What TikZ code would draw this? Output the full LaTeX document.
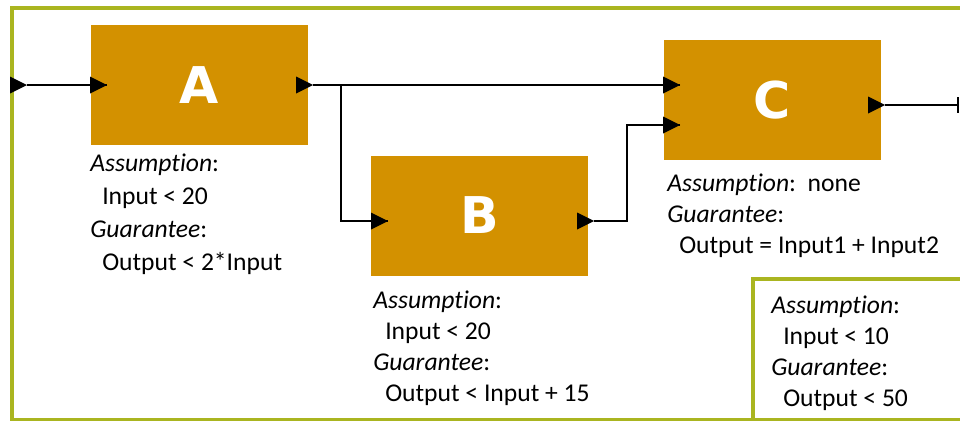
\documentclass[tikz,border=0pt]{standalone}
\usepackage{fontspec}
\setmainfont{Carlito}[Ligatures=NoCommon]
\newfontfamily\blockfont{DejaVu Sans}
\usepackage{xcolor}
\usetikzlibrary{arrows.meta}

\definecolor{blockfill}{RGB}{211,145,0}
\definecolor{framegreen}{RGB}{170,181,32}

\begin{document}
\begin{tikzpicture}[x=0.75pt, y=-0.75pt,
    block/.style={fill=blockfill, minimum width=162.75pt, minimum height=90pt, inner sep=0pt,
                  text=white, font=\blockfont\bfseries\fontsize{38}{38}\selectfont},
    spec/.style={anchor=north west, inner sep=0pt, align=left, font=\fontsize{19.2}{23.2}\selectfont},
    wire/.style={line width=1.3pt}]
    \useasboundingbox (0,0) rectangle (960,421);
    \clip (0,0) rectangle (960,421);

    % outer frame and the system contract box
    \draw [framegreen, line width=3pt] (12,8) rectangle (990,420);
    \draw [framegreen, line width=2.5pt] (753,279) rectangle (990,420);

    % components
    \node [block] (A) at (199.5,85) {A};
    \node [block] (B) at (479.5,215.5) {B};
    \node [block] (C) at (772.5,100) {C};

    % ports (tip of each triangle)
    \coordinate (sysin) at (27,85);
    \coordinate (ain) at (107,85);
    \coordinate (aout) at (313,85);
    \coordinate (split) at (341,85);
    \coordinate (bin) at (388,221);
    \coordinate (bout) at (594,221);
    \coordinate (bend) at (627,221);
    \coordinate (cin1) at (680,85);
    \coordinate (cin2) at (680,125);
    \coordinate (cout) at (885,105);
    \coordinate (sysout) at (959,105);

    % wiring
    \draw [wire] (sysin) -- (ain);
    \draw [wire] (aout) -- (cin1);
    \draw [wire] (split) |- (bin);
    \draw [wire] (bout) -- (bend) |- (cin2);
    \draw [wire, -{Bar[width=12pt]}] (cout) -- (sysout);

    \fill (sysin) -- ++(-17,-8.5) -- ++(0,17) -- cycle;
    \fill (ain) -- ++(-17,-8.5) -- ++(0,17) -- cycle;
    \fill (aout) -- ++(-17,-8.5) -- ++(0,17) -- cycle;
    \fill (bin) -- ++(-17,-8.5) -- ++(0,17) -- cycle;
    \fill (bout) -- ++(-17,-8.5) -- ++(0,17) -- cycle;
    \fill (cin1) -- ++(-17,-8.5) -- ++(0,17) -- cycle;
    \fill (cin2) -- ++(-17,-8.5) -- ++(0,17) -- cycle;
    \fill (cout) -- ++(-17,-8.5) -- ++(0,17) -- cycle;

    % contracts
    \node [spec, font=\fontsize{19.2}{24.6}\selectfont] (specA) at (90,154) {\textit{Assumption}:\\\hspace*{9pt}Input < 20\\\textit{Guarantee}:\\\hspace*{9pt}Output < 2*Input};
    \node [spec] (specB) at (373,291) {\textit{Assumption}:\\\hspace*{9pt}Input < 20\\\textit{Guarantee}:\\\hspace*{9pt}Output < Input + 15};
    \node [spec] (specC) at (667,174) {\textit{Assumption}:\ \ none\\\textit{Guarantee}:\\\hspace*{9pt}Output = Input1 + Input2};
    \node [spec] (sysspec) at (771,296) {\textit{Assumption}:\\\hspace*{9pt}Input < 10\\\textit{Guarantee}:\\\hspace*{9pt}Output < 50};
\end{tikzpicture}
\end{document}
